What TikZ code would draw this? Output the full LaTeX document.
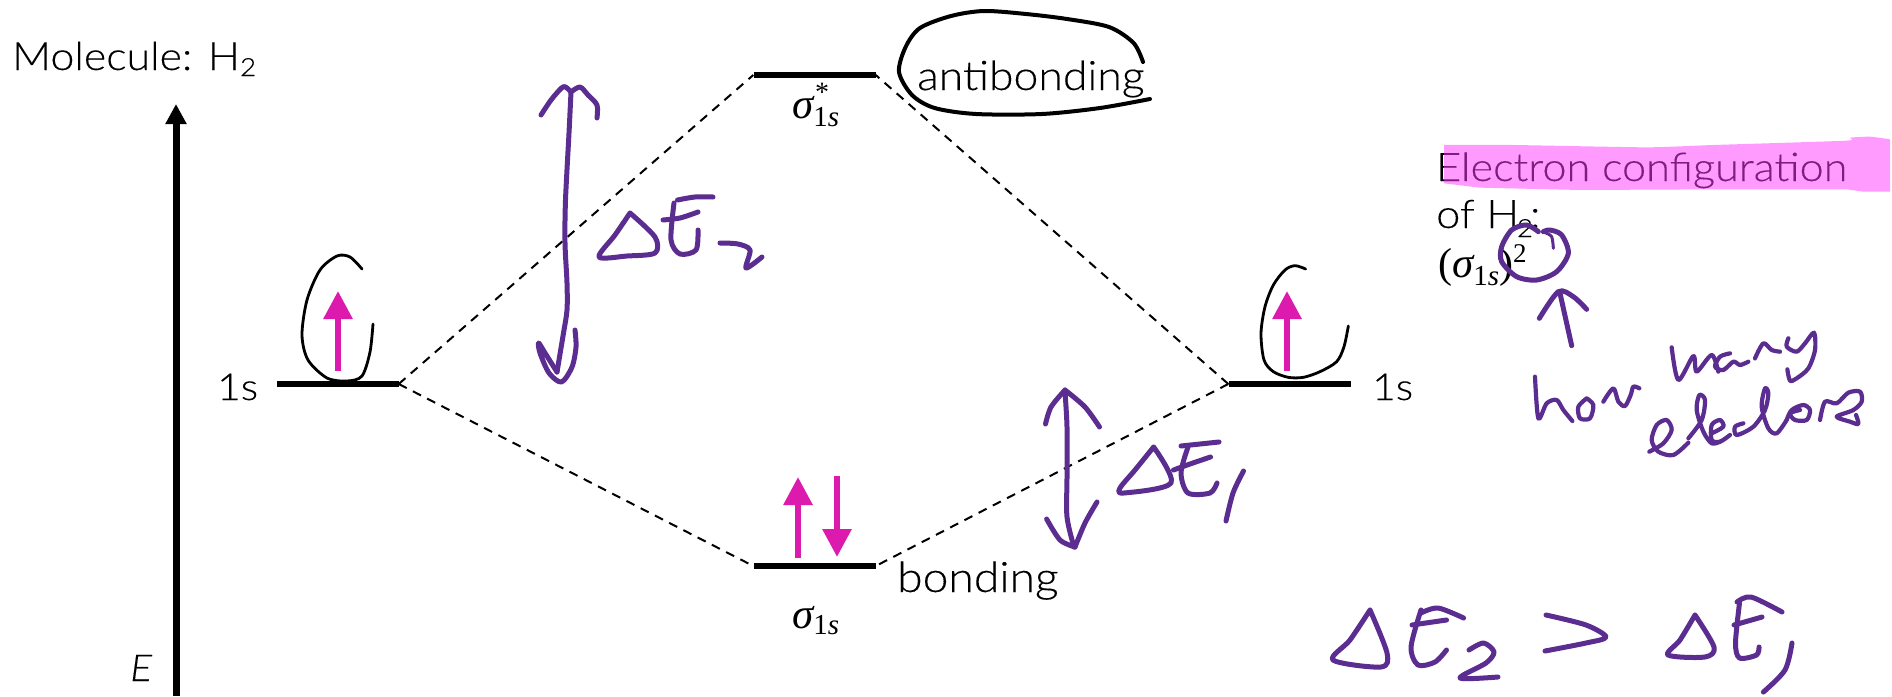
\documentclass[tikz,border=0pt]{standalone}
\usepackage{fontspec}
\usetikzlibrary{arrows.meta}
\setmainfont{Lato Light}[FakeStretch=1.1,FakeBold=0.2]
\newfontfamily\mf{Liberation Serif}
\definecolor{purp}{RGB}{91,45,144}
\definecolor{pinkarrow}{RGB}{220,26,174}
\definecolor{hilite}{RGB}{255,56,255}
\newcommand{\fs}[1]{\fontsize{#1}{#1}\selectfont}
\newcommand{\hw}[2][]{\draw[hand,#1] plot[smooth,tension=.5] coordinates {#2};}
\newcommand{\sigbase}{{\mf\fs{43}\itshape σ}}
\newcommand{\onessub}{{\mf\fs{29}1\itshape s}}
\tikzset{
  hand/.style={purp,line width=5pt,line cap=round,line join=round},
  thinhand/.style={hand,line width=4.2pt},
  blkloop/.style={hand,black,line width=2.8pt},
  lvl/.style={fill=black,inner sep=0pt,minimum height=6.5pt,minimum width=122pt},
  txt/.style={anchor=base west,inner sep=0pt,text=black,font=\fs{39}},
  dashline/.style={black,line width=2pt,dash pattern=on 9pt off 7pt},
  spinarrow/.style={pinkarrow,line width=6pt,-{Triangle[width=28pt,length=28pt]}},
  axisline/.style={black,line width=7pt,-{Triangle[width=20pt,length=20pt]}},
}
\begin{document}
\begin{tikzpicture}[x=1pt,y=-1pt]
\useasboundingbox (0,0) rectangle (1892,696);
\fill[white] (0,0) rectangle (1892,696);
% levels
\node[lvl] (L) at (337.5,384) {};
\node[lvl] (R) at (1289.5,384) {};
\node[lvl] (T) at (814.5,75) {};
\node[lvl] (B) at (814.5,566) {};
\draw[dashline] (L.east) -- (T.west);
\draw[dashline] (L.east) -- (B.west);
\draw[dashline] (R.west) -- (T.east);
\draw[dashline] (R.west) -- (B.east);
% axis
\coordinate (axb) at (176,696);
\coordinate (axt) at (176,104);
\draw[axisline] (axb) -- (axt);
% spin arrows
\coordinate (a1s) at (338,371); \coordinate (a1e) at (338,291);
\coordinate (a2s) at (1287,371); \coordinate (a2e) at (1287,291);
\coordinate (a3s) at (798,558); \coordinate (a3e) at (798,477);
\coordinate (a4s) at (837,476); \coordinate (a4e) at (837,557);
\draw[spinarrow] (a1s) -- (a1e);
\draw[spinarrow] (a2s) -- (a2e);
\draw[spinarrow] (a3s) -- (a3e);
\draw[spinarrow] (a4s) -- (a4e);
% labels
\node[txt] (mol) at (12,70) {Molecule: H\raisebox{-6pt}{\fs{25}2}};
\node[txt,font=\fs{37}\itshape] (Elab) at (130,681) {E};
\node[txt,font=\fs{37}] (s1) at (217,400) {1s};
\node[txt,font=\fs{37}] (s2) at (1372,400) {1s};
\node[txt,font=\fs{40.5}] (anti) at (917,90) {antibonding};
\node[txt,font=\fs{42}] (bond) at (897,592) {bonding};
\node[txt] (sb) at (792,628) {\sigbase\raisebox{-6pt}{\onessub}};
\node[txt] (st) at (792,118) {\sigbase\raisebox{-8pt}{\onessub}};
\node[txt] (star) at (815,101) {{\mf\fs{28}*}};
\node[txt,font=\fs{39.3}] (cfg1) at (1436,181) {Electron configuration};
\node[txt,font=\fs{39.3}] (cfg2) at (1436,228) {of H\hspace{-2pt}\raisebox{-9pt}{\fs{25}2}\hspace{-3pt}:};
\node[txt] (cfg3) at (1438,277) {{\mf\fs{42}(}\sigbase\raisebox{-8pt}{\onessub}{\mf\fs{42})}\raisebox{15pt}{{\mf\fs{27}2}}};
% highlight
\begin{scope}[shift={(1380,90)},x=0.33333pt,y=-0.33333pt]
\fill[hilite,opacity=.5] plot[smooth,tension=.3] coordinates {(192,165) (400,165) (800,172) (1000,165) (1400,152) (1410,143) (1470,140) (1530,148)} -- (1530,305) -- (1450,305) -- (1400,298) -- (1000,298) -- (600,300) -- (300,293) -- (192,280) -- cycle;
\end{scope}
% black hand loops
\hw[blkloop,line width=4pt]{(1143,62) (1133.6,43) (1109,27) (1067,19) (1026,14) (984,11) (951,16) (920,28) (905.6,47) (899,72) (912,95) (934.6,108) (976,114) (1042,114) (1100,108) (1150,99)}
\hw[blkloop]{(362,269) (350,257) (337,256) (320,270) (307,300) (302,335) (308,360) (327,378) (347,381) (362,376) (370,352) (373,324)}
\begin{scope}[shift={(1240,240)},x=0.33333pt,y=-0.33333pt]
\hw[blkloop]{(197,87) (165,77) (135,90) (100,135) (75,200) (63,280) (72,360) (100,395) (145,412) (190,412) (240,395) (290,365) (312,320) (325,258)}
\end{scope}
% Delta E2 arrow and label
\hw{(571,92) (569,133) (565.5,200) (565,243) (567,283) (567,310) (563.5,333) (557,372)}
\hw{(541,115) (551,100) (561.5,88) (565.6,87) (571,92)}
\hw{(571,92) (580,87) (588,95) (597,105) (597,118)}
\hw{(575,330) (576,347) (572,367) (561.5,382) (549,373) (540,353) (538.6,343) (545,353) (557,372)}
\hw{(630,213) (615,235) (599,257) (627,256) (655,253) (655,237) (630,213)}
\hw{(677.5,200) (695,197) (713,197)}
\hw{(663,220) (680,218) (698,212)}
\hw{(674,203) (671,240) (680,254) (696,250) (698,230)}
\hw{(720,243) (738,244) (750,250) (746,268) (762,257)}
% Delta E1 arrow and label
\hw{(1065,392) (1067,427) (1067,477) (1067,517) (1074,547)}
\hw{(1045.5,424) (1051,407) (1065,390)}
\hw{(1065,390) (1085,407) (1099.5,427)}
\hw{(1046.6,519) (1060,540) (1075,547)}
\hw{(1075,547) (1085,523) (1097,502)}
\hw{(1153.6,447) (1135,470) (1120,488) (1124,493) (1171,483) (1153.6,447)}
\hw{(1181,446) (1200,444) (1219,442)}
\hw{(1173.5,470) (1190,464) (1210.5,457)}
\hw{(1188,447) (1181,473) (1188,493) (1210,493) (1217,483)}
\hw{(1243.5,471) (1233,493) (1226,521)}
% Delta E2 > Delta E1
\hw{(1370,610) (1350,640) (1333,660) (1381,667) (1387,653) (1370,610)}
\hw{(1421,613) (1438,608) (1463.6,618)}
\hw{(1412,625) (1446.5,620)}
\hw{(1421,610) (1411,647) (1418,665) (1435,662) (1446.5,650)}
\hw{(1469,650) (1483.5,643) (1494,652) (1486,663) (1460,678) (1498,677)}
\hw{(1546,615) (1586,625) (1606,637) (1586,643) (1545,651)}
\hw{(1695,615) (1680,640) (1668,655) (1705,657) (1714,647) (1695,615)}
\hw{(1737,602) (1751,597) (1782,612)}
\hw{(1734,625) (1762,617)}
\hw{(1739.5,603) (1735.5,643) (1739.5,658) (1756.5,655) (1759,647)}
\hw{(1792,643) (1785,670) (1763.4,692)}
% circle, arrow and 'how'
\begin{scope}[shift={(1380,90)},x=0.33333pt,y=-0.33333pt]
\hw{(475,425) (440,405) (395,420) (365,470) (365,515) (410,560) (470,570) (530,545) (565,490) (545,435) (510,420) (490,425)}
\hw[line width=3pt]{(520,475) (515,440) (495,428)}
\hw{(575,767) (540,610)}
\hw{(478,685) (535,605) (580,620) (620,658)}
\hw[thinhand]{(465,860) (475,985) (500,940) (530,930) (550,960) (577,993)}
\hw[thinhand]{(620,925) (595,950) (600,985) (630,985) (640,945) (620,925)}
\hw[thinhand]{(670,935) (700,895) (715,935) (735,948) (752,915) (760,890) (778,895)}
\end{scope}
\begin{scope}[shift={(1640,320)},x=0.33333pt,y=-0.33333pt]
\hw[thinhand]{(95,82) (115,180) (160,108) (170,155) (215,105) (235,155)}
\hw[thinhand]{(270,100) (240,110) (225,140) (250,150) (280,125) (300,135) (325,125)}
\hw[thinhand]{(345,115) (370,70) (395,90) (420,95)}
\hw[thinhand]{(445,55) (440,80) (470,95) (495,70) (522,38) (525,90) (505,145) (470,175) (450,182) (442,148)}
\hw[thinhand]{(28,395) (70,370) (95,330) (80,300) (50,315) (35,360) (55,395) (100,405) (145,368)}
\hw[thinhand]{(145,355) (185,300) (195,240) (178,225) (170,270) (190,335) (215,370) (240,365)}
\hw[thinhand]{(215,340) (250,320) (240,300) (215,315) (215,360) (240,365) (270,345)}
\hw[thinhand]{(310,310) (285,320) (290,345) (340,320) (375,270) (385,220) (375,205) (365,260) (385,325) (410,340) (440,300)}
\hw[thinhand]{(480,270) (450,280) (465,300) (500,300) (510,270) (490,255) (455,270) (440,300)}
\hw[thinhand]{(540,300) (555,245) (590,250) (625,218) (660,215) (665,245) (640,270) (590,290) (630,305) (655,312) (648,285)}
\end{scope}
\end{tikzpicture}
\end{document}
